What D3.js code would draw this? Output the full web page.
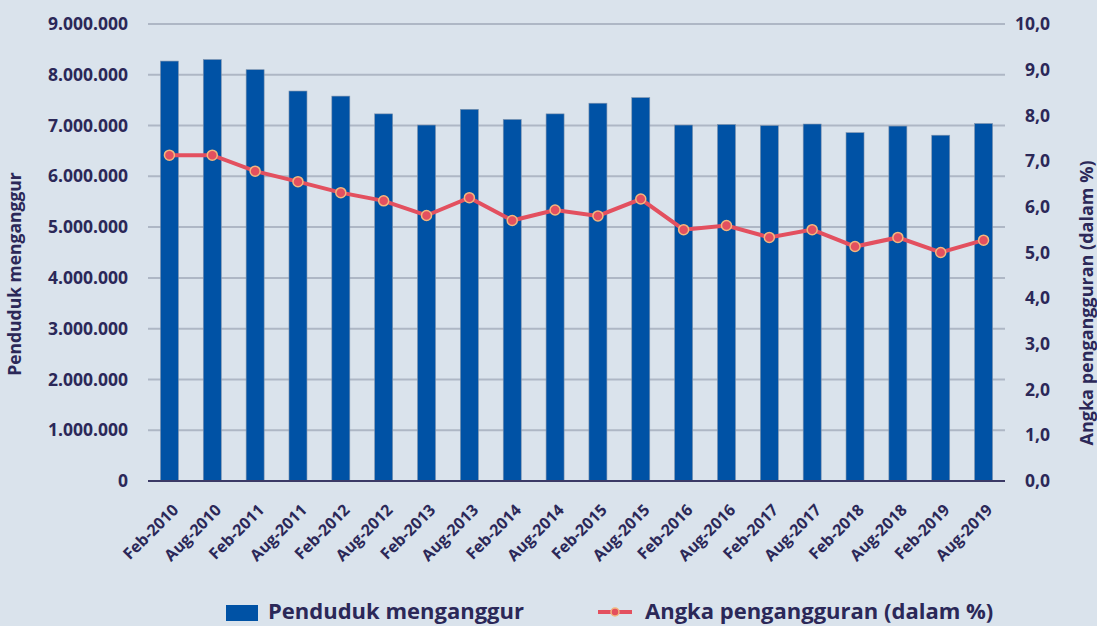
<!DOCTYPE html>
<html>
<head>
<meta charset="utf-8">
<script src="https://cdn.jsdelivr.net/npm/d3@7"></script>
<style>
  body { margin: 0; background: #dae3ec; }
  svg text { font-family: "Open Sans", "Noto Sans", sans-serif; font-weight: 700; fill: #2b2858; }
</style>
</head>
<body>
<div id="chart"></div>
<script>
var periods = ["Feb-2010","Aug-2010","Feb-2011","Aug-2011","Feb-2012","Aug-2012","Feb-2013","Aug-2013",
  "Feb-2014","Aug-2014","Feb-2015","Aug-2015","Feb-2016","Aug-2016","Feb-2017","Aug-2017",
  "Feb-2018","Aug-2018","Feb-2019","Aug-2019"];
var unemployed = [8270000,8300000,8100000,7680000,7580000,7230000,7010000,7320000,
  7120000,7230000,7440000,7550000,7010000,7020000,7000000,7030000,
  6860000,6990000,6810000,7040000];
var rate = [7.13,7.13,6.78,6.55,6.31,6.13,5.81,6.20,
  5.70,5.93,5.80,6.17,5.50,5.59,5.33,5.50,
  5.13,5.33,5.00,5.27];
var leftTicks = [0,1000000,2000000,3000000,4000000,5000000,6000000,7000000,8000000,9000000];
var rightTicks = [0,1,2,3,4,5,6,7,8,9,10];

var width = 1097, height = 626;
var margin = {top: 24, right: 92, bottom: 145, left: 148};

var svg = d3.select("#chart").append("svg")
  .attr("width", width)
  .attr("height", height);

svg.append("rect").attr("width", width).attr("height", height).attr("fill", "#dae3ec");

var x = d3.scaleBand()
  .domain(periods)
  .range([margin.left, width - margin.right])
  .paddingInner(0.58)
  .paddingOuter(0.29);

var yL = d3.scaleLinear().domain([0, 9000000]).range([height - margin.bottom, margin.top]);
var yR = d3.scaleLinear().domain([0, 10]).range([height - margin.bottom, margin.top]);

// gridlines
svg.append("g")
  .selectAll("line")
  .data(leftTicks.slice(1))
  .enter().append("line")
  .attr("x1", margin.left)
  .attr("x2", width - margin.right)
  .attr("y1", d => yL(d))
  .attr("y2", d => yL(d))
  .attr("stroke", "#aeb7c5")
  .attr("stroke-width", 2);

// left axis
var fmtL = d => d3.format(",")(d).replace(/,/g, ".");
var gL = svg.append("g")
  .attr("transform", "translate(" + margin.left + ",0)")
  .call(d3.axisLeft(yL).tickValues(leftTicks).tickFormat(fmtL).tickSize(0).tickPadding(20));
gL.attr("font-family", null).attr("font-size", null);
gL.select(".domain").remove();
gL.selectAll("text").style("font-size", "17.5px");

// right axis
var gR = svg.append("g")
  .attr("transform", "translate(" + (width - margin.right) + ",0)")
  .call(d3.axisRight(yR).tickValues(rightTicks).tickFormat(d => d3.format(".1f")(d).replace(".", ",")).tickSize(0).tickPadding(45));
gR.attr("font-family", null).attr("font-size", null);
gR.select(".domain").remove();
gR.selectAll("text").style("font-size", "17.5px").attr("text-anchor", "end");

// bars
svg.append("g")
  .selectAll("rect")
  .data(periods)
  .enter().append("rect")
  .attr("x", d => x(d))
  .attr("width", x.bandwidth())
  .attr("y", (d, i) => yL(unemployed[i]))
  .attr("height", (d, i) => yL(0) - yL(unemployed[i]))
  .attr("fill", "#0052a5")
  .attr("stroke", "#7f93ad")
  .attr("stroke-width", 0.6);

// baseline
svg.append("line")
  .attr("x1", margin.left)
  .attr("x2", width - margin.right)
  .attr("y1", yL(0))
  .attr("y2", yL(0))
  .attr("stroke", "#3b3a66")
  .attr("stroke-width", 2);

// category labels: outer g moves, inner g turns
var lab = svg.append("g")
  .selectAll("g")
  .data(periods)
  .enter().append("g")
  .attr("transform", d => "translate(" + (x(d) + x.bandwidth() / 2 + 10) + "," + (yL(0) + 30) + ")");
lab.append("g")
  .attr("transform", "rotate(-45)")
  .append("text")
  .attr("text-anchor", "end")
  .style("font-size", "16px")
  .text(d => d);

// line
var line = d3.line()
  .x((d, i) => x(periods[i]) + x.bandwidth() / 2)
  .y(d => yR(d));

svg.append("path")
  .datum(rate)
  .attr("d", line)
  .attr("fill", "none")
  .attr("stroke", "#e3505f")
  .attr("stroke-width", 4);

svg.append("g")
  .selectAll("circle")
  .data(rate)
  .enter().append("circle")
  .attr("cx", (d, i) => x(periods[i]) + x.bandwidth() / 2)
  .attr("cy", d => yR(d))
  .attr("r", 5)
  .attr("fill", "#e3505f")
  .attr("stroke", "#f2b77e")
  .attr("stroke-width", 1.5);

// axis titles
svg.append("text")
  .attr("transform", "translate(21,274) rotate(-90)")
  .attr("text-anchor", "middle")
  .style("font-size", "17.5px")
  .text("Penduduk menganggur");

svg.append("text")
  .attr("transform", "translate(1093,303) rotate(-90)")
  .attr("text-anchor", "middle")
  .style("font-size", "18px")
  .text("Angka pengangguran (dalam %)");

// legend
var lg = svg.append("g");
lg.append("rect").attr("x", 226).attr("y", 605).attr("width", 32).attr("height", 16).attr("fill", "#0052a5");
lg.append("text").attr("x", 268).attr("y", 619)
  .style("font-size", "22px").text("Penduduk menganggur");
lg.append("line").attr("x1", 598).attr("x2", 632).attr("y1", 612).attr("y2", 612)
  .attr("stroke", "#e3505f").attr("stroke-width", 4);
lg.append("circle").attr("cx", 615).attr("cy", 612).attr("r", 4)
  .attr("fill", "#e3505f").attr("stroke", "#f2b77e").attr("stroke-width", 1.5);
lg.append("text").attr("x", 645).attr("y", 619)
  .style("font-size", "22px").text("Angka pengangguran (dalam %)");
</script>
</body>
</html>
